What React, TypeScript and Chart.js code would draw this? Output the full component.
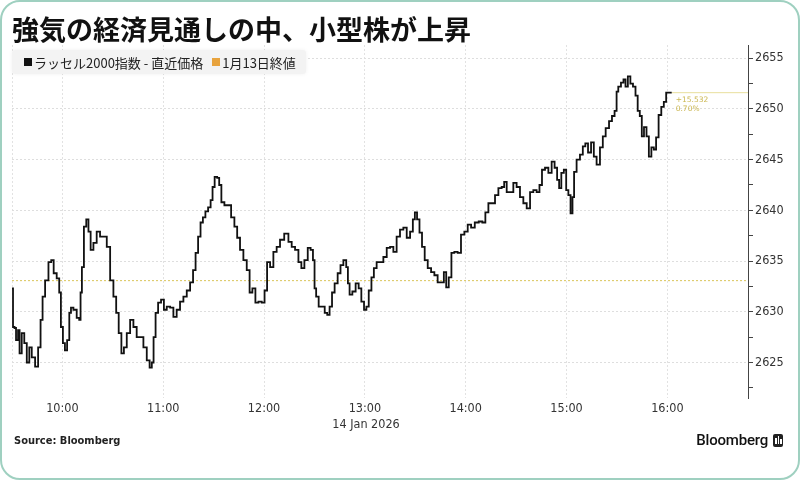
import React, { useEffect, useRef } from 'react';
import { Chart, registerables } from 'chart.js';

Chart.register(...registerables);

const titleText = '強気の経済見通しの中、小型株が上昇';
const seriesLabel = 'ラッセル2000指数 - 直近価格';
const refLabel = '1月13日終値';
const dateLabel = '14 Jan 2026';
const sourceLabel = 'Source: Bloomberg';
const brandLabel = 'Bloomberg';

// x values: minutes after 09:30 (session open)
const xTickMinutes = [0, 30, 90, 150, 210, 270, 330, 390];
const xTickLabels = ['', '10:00', '11:00', '12:00', '13:00', '14:00', '15:00', '16:00'];
const xMaxMinutes = 438;

const yTickValues = [2622.5, 2625, 2627.5, 2630, 2632.5, 2635, 2637.5, 2640, 2642.5, 2645, 2647.5, 2650, 2652.5, 2655];
const yMinValue = 2621.5;
const yMaxValue = 2656.3;

const prevClose = 2633.07;
const changeText = '+15.532';
const pctText = '0.70%';

const minutes = [0,1.2,1.8,3.0,4.2,4.8,6.8,7.8,9.8,10.8,12.7,14.8,16.3,17.7,18.7,20.7,22.7,24.0,25.6,27.6,28.6,29.6,31.0,32.0,33.6,34.6,35.6,37.5,39.5,40.5,41.1,42.1,43.5,44.9,46.1,47.5,49.4,51.4,53.4,55.4,57.4,59.4,61.3,62.7,64.3,65.9,67.3,69.3,71.3,73.2,75.2,77.2,79.2,81.2,82.6,83.8,84.7,86.2,87.7,89.7,91.1,93.1,95.1,97.0,99.0,101.0,103.0,105.0,107.0,108.5,110.0,111.5,112.9,114.3,115.9,117.5,118.9,119.8,121.4,122.8,123.8,125.4,127.4,129.4,131.4,133.3,134.7,136.7,138.7,140.7,142.1,144.0,145.7,147.6,149.6,151.0,152.6,154.6,156.5,158.5,160.5,163.5,165.5,167.4,169.5,171.4,173.0,175.0,177.0,178.4,179.8,180.3,181.7,183.3,185.3,186.9,188.3,189.7,191.2,192.8,194.8,196.2,198.2,199.6,200.2,201.6,203.5,205.5,207.1,208.7,210.3,211.5,213.1,214.7,216.0,218.0,220.0,222.0,224.0,226.0,227.9,229.9,231.9,233.9,235.9,237.9,239.2,240.3,241.8,243.2,244.8,246.4,248.4,250.4,252.3,254.3,256.3,257.7,259.1,260.7,262.3,264.2,266.2,268.2,270.2,272.2,274.2,276.6,278.9,280.9,282.5,284.5,286.4,288.5,290.4,292.4,293.4,295.4,297.4,299.3,301.3,303.3,305.3,307.3,309.3,311.2,313.2,314.6,316.2,318.2,320.2,322.1,323.7,325.1,326.1,327.7,329.1,330.5,331.7,333.1,334.0,335.0,337.0,339.0,340.4,342.0,343.6,345.6,346.9,348.9,350.9,352.3,354.3,356.3,357.8,359.4,360.2,361.4,363.4,364.4,365.8,367.2,368.8,370.3,371.8,372.9,374.3,375.3,376.9,378.3,379.7,381.3,382.6,384.0,385.6,387.2,388.6,390.0,392.6];

const prices = [2632.3,2628.5,2628.4,2627.2,2628.2,2625.9,2627.9,2626.9,2625.0,2626.5,2625.5,2624.6,2626.5,2629.2,2631.5,2633.1,2634.9,2635.1,2633.8,2633.3,2631.9,2628.5,2626.9,2626.2,2627.2,2629.9,2630.4,2630.2,2629.4,2629.2,2631.9,2634.4,2638.4,2639.1,2637.9,2636.1,2636.8,2637.9,2637.4,2637.4,2636.4,2633.1,2631.5,2629.9,2627.9,2625.9,2626.5,2627.9,2629.2,2628.5,2627.5,2627.5,2626.5,2625.2,2624.5,2625.0,2627.5,2629.9,2630.9,2631.2,2630.2,2630.5,2630.4,2629.5,2630.2,2631.0,2631.5,2632.1,2632.9,2634.1,2635.8,2637.4,2638.8,2639.3,2639.9,2640.3,2641.0,2642.3,2643.3,2643.2,2642.5,2640.8,2640.5,2640.5,2639.3,2638.4,2637.3,2636.1,2635.1,2634.1,2631.9,2632.3,2630.9,2631.0,2630.9,2632.1,2634.9,2634.4,2635.9,2636.4,2637.1,2637.7,2636.9,2636.4,2636.1,2634.9,2634.3,2635.1,2636.3,2636.1,2635.1,2632.3,2631.5,2630.5,2630.5,2629.9,2629.7,2630.5,2631.9,2632.8,2633.8,2634.6,2635.1,2634.4,2632.8,2631.7,2632.0,2632.8,2632.3,2631.0,2630.2,2630.5,2632.1,2633.4,2634.3,2634.9,2634.9,2635.4,2636.3,2636.4,2635.9,2637.4,2638.1,2638.3,2637.3,2637.9,2639.1,2639.8,2639.1,2637.8,2636.4,2635.1,2634.3,2633.9,2633.6,2632.9,2632.9,2633.9,2632.4,2633.4,2635.8,2635.9,2635.8,2637.6,2637.9,2638.6,2638.3,2638.8,2638.9,2638.8,2639.8,2640.7,2640.7,2641.5,2642.2,2642.3,2642.8,2641.8,2641.8,2642.7,2642.3,2641.3,2640.7,2640.2,2641.8,2642.0,2641.8,2642.5,2644.0,2644.2,2643.7,2644.8,2644.2,2643.0,2642.2,2643.7,2644.0,2642.0,2641.5,2639.7,2641.3,2643.8,2645.0,2645.5,2646.3,2646.6,2645.7,2646.7,2645.3,2644.5,2646.2,2647.3,2648.1,2648.8,2649.3,2649.8,2651.7,2652.2,2652.6,2652.9,2652.2,2653.2,2652.5,2652.2,2651.3,2649.8,2649.3,2647.3,2648.2,2647.3,2645.3,2646.2,2646.0,2647.2,2649.4,2650.2,2650.7,2651.6,2651.6];

const n = Math.min(minutes.length, prices.length);
const lastMinute = minutes[n - 1];
const lastPrice = prices[n - 1];

const endLabelPlugin = {
  id: 'endLabels',
  afterDatasetsDraw(chart: any) {
    const { ctx, scales } = chart;
    const px = scales.x.getPixelForValue(lastMinute);
    const py = scales.y.getPixelForValue(lastPrice);
    ctx.save();
    ctx.font = '7.5px "DejaVu Sans"';
    ctx.fillStyle = '#cbb752';
    ctx.textBaseline = 'middle';
    ctx.textAlign = 'left';
    ctx.fillText(changeText, px + 4, py + 7);
    ctx.fillText(pctText, px + 4, py + 16);
    ctx.restore();
  },
};

function App() {
  const canvasRef = useRef<HTMLCanvasElement | null>(null);

  useEffect(() => {
    document.body.style.margin = '0';
    const canvas = canvasRef.current;
    if (!canvas) return;
    const priceData = [];
    for (let i = 0; i < n; i++) priceData.push({ x: minutes[i], y: prices[i] });

    const chart = new Chart(canvas, {
      type: 'line',
      data: {
        datasets: [
          {
            label: refLabel,
            data: [{ x: 0, y: prevClose }, { x: xMaxMinutes, y: prevClose }],
            borderColor: '#d9c559',
            borderWidth: 1,
            borderDash: [2, 2],
            pointRadius: 0,
            order: 3,
          },
          {
            label: 'last',
            data: [{ x: lastMinute, y: lastPrice }, { x: xMaxMinutes, y: lastPrice }],
            borderColor: '#e9df9c',
            borderWidth: 1,
            pointRadius: 0,
            order: 2,
          },
          {
            label: seriesLabel,
            data: priceData,
            borderColor: '#111111',
            borderWidth: 1.8,
            pointRadius: 0,
            stepped: 'middle',
            order: 1,
          },
        ],
      },
      options: {
        animation: false,
        responsive: false,
        devicePixelRatio: 1,
        parsing: false as any,
        layout: { padding: { left: 12, top: 45, right: 0, bottom: 0 } },
        plugins: { legend: { display: false }, tooltip: { enabled: false }, title: { display: false } },
        scales: {
          x: {
            type: 'linear',
            min: 0,
            max: xMaxMinutes,
            afterBuildTicks: (scale: any) => {
              scale.ticks = xTickMinutes.map((v) => ({ value: v }));
            },
            afterFit: (scale: any) => {
              scale.height = 82;
            },
            ticks: {
              autoSkip: false,
              maxRotation: 0,
              padding: 3,
              color: '#333',
              font: { family: '"DejaVu Sans Condensed", "DejaVu Sans"', size: 12.5 },
              callback: (value: any) => {
                const i = xTickMinutes.indexOf(Number(value));
                return i >= 0 ? xTickLabels[i] : '';
              },
            },
            grid: { color: '#e2e2e2', lineWidth: 1, drawTicks: false },
            border: { display: false, dash: [2, 2] },
          },
          y: {
            type: 'linear',
            position: 'right',
            min: yMinValue,
            max: yMaxValue,
            afterBuildTicks: (scale: any) => {
              scale.ticks = yTickValues.map((v) => ({ value: v }));
            },
            afterFit: (scale: any) => {
              scale.width = 52;
            },
            ticks: {
              autoSkip: false,
              padding: 2,
              color: '#333',
              font: { family: '"DejaVu Sans Condensed", "DejaVu Sans"', size: 12.5 },
              callback: (value: any) => (Number(value) % 5 === 0 ? String(value) : ''),
            },
            grid: {
              color: (ctx: any) => (ctx.tick && ctx.tick.value % 5 === 0 ? '#dedede' : 'rgba(0,0,0,0)'),
              lineWidth: 1,
              drawTicks: true,
              tickLength: 5,
              tickColor: '#444',
              tickBorderDash: [],
            },
            border: { display: true, color: '#444', width: 1, dash: [2, 2] },
          },
        },
      },
      plugins: [endLabelPlugin],
    } as any);
    return () => chart.destroy();
  }, []);

  const cjk = '"Noto Sans CJK JP", "Noto Sans", sans-serif';

  return (
    <div style={{ position: 'relative', width: 800, height: 480, background: '#fff', overflow: 'hidden' }}>
      <canvas ref={canvasRef} width={800} height={480} style={{ position: 'absolute', left: 0, top: 0, width: 800, height: 480 }} />
      <div
        style={{
          position: 'absolute', left: 0, top: 0, width: 800, height: 480, boxSizing: 'border-box',
          border: '2.5px solid #9fd0c0', borderRadius: 20, pointerEvents: 'none',
        }}
      />
      <div style={{ position: 'absolute', left: 12, top: 15, fontFamily: cjk, fontWeight: 700, fontSize: 27, lineHeight: '27px', color: '#111', whiteSpace: 'nowrap' }}>
        {titleText}
      </div>
      <div
        style={{
          position: 'absolute', left: 12, top: 50, height: 24, width: 294, background: '#f3f3f3',
          borderRadius: 3, boxShadow: '0 0 4px rgba(0,0,0,0.06)', display: 'flex', alignItems: 'center',
          fontFamily: cjk, fontSize: 13, color: '#222', whiteSpace: 'pre', boxSizing: 'border-box', paddingLeft: 12,
        }}
      >
        <span style={{ display: 'inline-block', width: 8, height: 8, background: '#111', marginRight: 2 }} />
        <span>{seriesLabel}</span>
        <span style={{ display: 'inline-block', width: 8, height: 8, background: '#e8a33d', marginLeft: 9, marginRight: 2 }} />
        <span>{refLabel}</span>
      </div>
      <div style={{ position: 'absolute', left: 366, top: 416, transform: 'translateX(-50%)', fontFamily: '"DejaVu Sans Condensed", "DejaVu Sans"', fontSize: 12.5, lineHeight: '16px', color: '#333', whiteSpace: 'nowrap' }}>
        {dateLabel}
      </div>
      <div style={{ position: 'absolute', left: 14, top: 433, fontFamily: '"DejaVu Sans Condensed", "DejaVu Sans"', fontWeight: 700, fontSize: 11, lineHeight: '16px', color: '#222', whiteSpace: 'nowrap' }}>
        {sourceLabel}
      </div>
      <div style={{ position: 'absolute', right: 17, top: 431, display: 'flex', alignItems: 'center', whiteSpace: 'nowrap' }}>
        <span style={{ fontFamily: 'Roboto, sans-serif', fontWeight: 500, fontSize: 15, lineHeight: '18px', color: '#111', letterSpacing: -0.2 }}>{brandLabel}</span>
        <span style={{ position: 'relative', display: 'inline-block', width: 10, height: 13, background: '#222', borderRadius: 2, marginLeft: 5 }}>
          <span style={{ position: 'absolute', left: 2, top: 4, width: 1.5, height: 6, background: '#fff' }} />
          <span style={{ position: 'absolute', left: 4.5, top: 2, width: 1.5, height: 8, background: '#fff' }} />
          <span style={{ position: 'absolute', left: 7, top: 5, width: 1.5, height: 5, background: '#fff' }} />
        </span>
      </div>
    </div>
  );
}

export default App;
